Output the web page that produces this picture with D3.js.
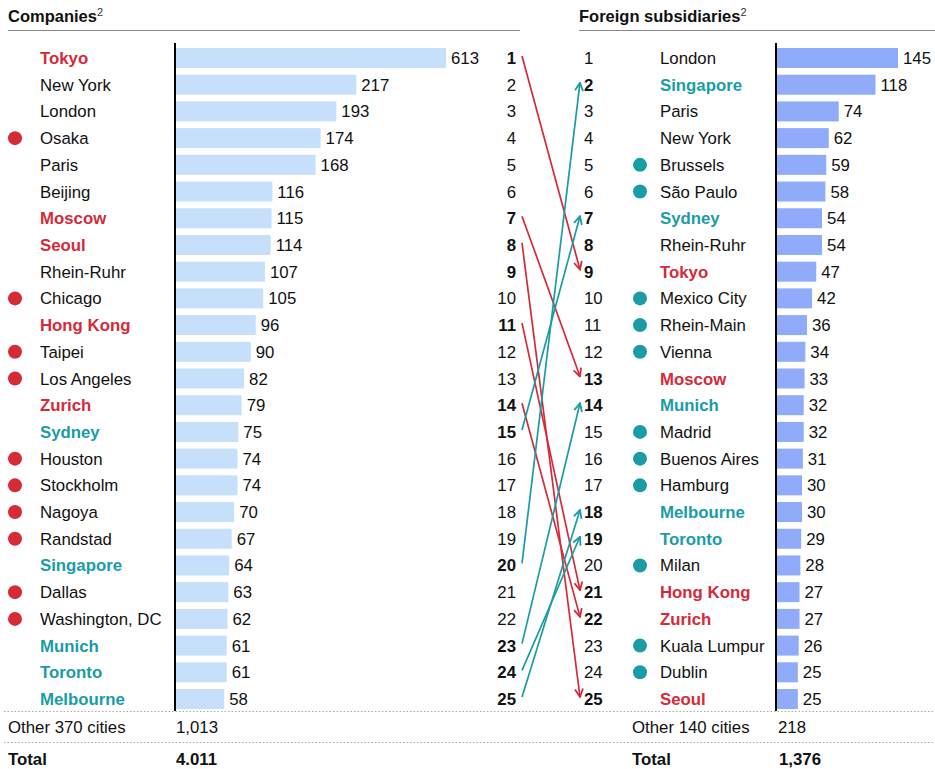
<!DOCTYPE html>
<html><head><meta charset="utf-8">
<script src="https://cdn.jsdelivr.net/npm/d3@7"></script>
<style>body{margin:0;background:#fff}svg{display:block;font-family:"Liberation Sans",Arial,sans-serif}</style>
</head><body><svg id="c" width="935" height="769"></svg>
<script>
// Left panel: companies
const leftCities = ["Tokyo","New York","London","Osaka","Paris","Beijing","Moscow","Seoul","Rhein-Ruhr","Chicago","Hong Kong","Taipei","Los Angeles","Zurich","Sydney","Houston","Stockholm","Nagoya","Randstad","Singapore","Dallas","Washington, DC","Munich","Toronto","Melbourne"];
const leftValues = [613,217,193,174,168,116,115,114,107,105,96,90,82,79,75,74,74,70,67,64,63,62,61,61,58];
const leftDot = ["Osaka","Chicago","Taipei","Los Angeles","Houston","Stockholm","Nagoya","Randstad","Dallas","Washington, DC"];
// Right panel: foreign subsidiaries
const rightCities = ["London","Singapore","Paris","New York","Brussels","São Paulo","Sydney","Rhein-Ruhr","Tokyo","Mexico City","Rhein-Main","Vienna","Moscow","Munich","Madrid","Buenos Aires","Hamburg","Melbourne","Toronto","Milan","Hong Kong","Zurich","Kuala Lumpur","Dublin","Seoul"];
const rightValues = [145,118,74,62,59,58,54,54,47,42,36,34,33,32,32,31,30,30,29,28,27,27,26,25,25];
const rightDot = ["Brussels","São Paulo","Mexico City","Rhein-Main","Vienna","Madrid","Buenos Aires","Hamburg","Milan","Kuala Lumpur","Dublin"];
const fallers = ["Tokyo","Moscow","Seoul","Hong Kong","Zurich"];
const risers = ["Sydney","Singapore","Munich","Toronto","Melbourne"];
const boldBoth = ["Rhein-Ruhr"];
const otherLeft = ["Other 370 cities","1,013"], otherRight = ["Other 140 cities","218"];
const totalLeft = ["Total","4.011"], totalRight = ["Total","1,376"];

const RED="#d52a38", TEAL="#1a9ca6", LBAR="#c6dffa", RBAR="#8fabfa";
const svg = d3.select("#c");
const ranks = d3.range(1,26);
const y = d3.scalePoint().domain(ranks).range([58, 699]);
const xl = d3.scaleLinear().domain([0,325]).range([0,270]).clamp(true);
const xr = d3.scaleLinear().domain([0,145]).range([0,121]);
const BH = 20;
const fs = 16.8;
const dy = 6;

function nameColor(c){ return fallers.includes(c)?RED:(risers.includes(c)?TEAL:"#111"); }
function isBold(c){ return fallers.includes(c)||risers.includes(c); }

// headers
function header(x, x2, label){
  const t = svg.append("text").attr("x",x).attr("y",22).attr("font-size",16.5).attr("font-weight","bold").attr("fill","#111");
  t.append("tspan").text(label);
  t.append("tspan").text("2").attr("font-size",11).attr("font-weight","normal").attr("dy",-6).attr("fill","#333");
  svg.append("line").attr("x1",x).attr("x2",x2).attr("y1",30.5).attr("y2",30.5).attr("stroke","#888").attr("stroke-width",1);
}
header(8,520,"Companies");
header(579,935,"Foreign subsidiaries");

function panel(cities, values, dots, dotColor, dotX, nameX, axisX, xs, barColor, rankX, rankAnchor, rankBold){
  const g = svg.append("g");
  g.selectAll("rect.bar").data(values).join("rect").attr("class","bar")
    .attr("x",axisX+1).attr("y",(d,i)=>y(i+1)-BH/2).attr("width",d=>xs(d)).attr("height",BH).attr("fill",barColor);
  g.selectAll("text.val").data(values).join("text").attr("class","val")
    .attr("x",d=>axisX+1+xs(d)+5).attr("y",(d,i)=>y(i+1)+dy).attr("font-size",fs).attr("fill","#111").text(d=>d);
  g.selectAll("text.name").data(cities).join("text").attr("class","name")
    .attr("x",nameX).attr("y",(d,i)=>y(i+1)+dy).attr("font-size",fs)
    .attr("font-weight",d=>isBold(d)?"bold":"normal").attr("fill",nameColor).text(d=>d);
  g.selectAll("circle.dot").data(cities.map((c,i)=>({c,i})).filter(d=>dots.includes(d.c))).join("circle")
    .attr("cx",dotX).attr("cy",d=>y(d.i+1)).attr("r",7).attr("fill",dotColor);
  g.selectAll("text.rank").data(cities).join("text").attr("class","rank")
    .attr("x",rankX).attr("y",(d,i)=>y(i+1)+dy).attr("font-size",fs).attr("text-anchor",rankAnchor)
    .attr("font-weight",(d,i)=>(rankBold(d))?"bold":"normal").attr("fill","#111").text((d,i)=>i+1);
  g.append("line").attr("x1",axisX).attr("x2",axisX).attr("y1",43).attr("y2",711).attr("stroke","#000").attr("stroke-width",2);
}
panel(leftCities,leftValues,leftDot,RED,15,40,175,xl,LBAR,516,"end",c=>isBold(c)||boldBoth.includes(c));
panel(rightCities,rightValues,rightDot,TEAL,640,660,776,xr,RBAR,584,"start",c=>isBold(c)||boldBoth.includes(c));

// arrows
const defs = svg.append("defs");
[["r",RED],["t",TEAL]].forEach(([id,col])=>{
  defs.append("marker").attr("id","ah"+id).attr("viewBox","0 0 10 10").attr("refX",9).attr("refY",5)
    .attr("markerWidth",10).attr("markerHeight",10).attr("markerUnits","userSpaceOnUse").attr("orient","auto")
    .append("path").attr("d","M1,1 L9,5 L1,9").attr("fill","none").attr("stroke",col).attr("stroke-width",1.8);
});
const moves = fallers.concat(risers).map(c=>({c, a:leftCities.indexOf(c)+1, b:rightCities.indexOf(c)+1}));
svg.append("g").selectAll("line").data(moves).join("line")
  .attr("x1",522).attr("y1",d=>y(d.a)-2).attr("x2",580).attr("y2",d=>y(d.b)-2)
  .attr("stroke",d=>fallers.includes(d.c)?RED:TEAL).attr("stroke-width",1.7)
  .attr("marker-end",d=>fallers.includes(d.c)?"url(#ahr)":"url(#aht)");

// dotted separators
[711.5,742.5].forEach(yy=>svg.append("line").attr("x1",4).attr("x2",935).attr("y1",yy).attr("y2",yy)
  .attr("stroke","#aaa").attr("stroke-width",1.2).attr("stroke-dasharray","1.5,2"));

// bottom rows
function row(yy, labels, x1, x2, bold){
  svg.append("text").attr("x",x1).attr("y",yy).attr("font-size",fs).attr("font-weight",bold?"bold":"normal").attr("fill","#111").text(labels[0]);
  svg.append("text").attr("x",x2).attr("y",yy).attr("font-size",fs).attr("font-weight",bold?"bold":"normal").attr("fill","#111").text(labels[1]);
}
row(733,otherLeft,8,176,false); row(733,otherRight,632,778,false);
row(765,totalLeft,8,176,true); row(765,totalRight,632,779,true);
</script></body></html>
